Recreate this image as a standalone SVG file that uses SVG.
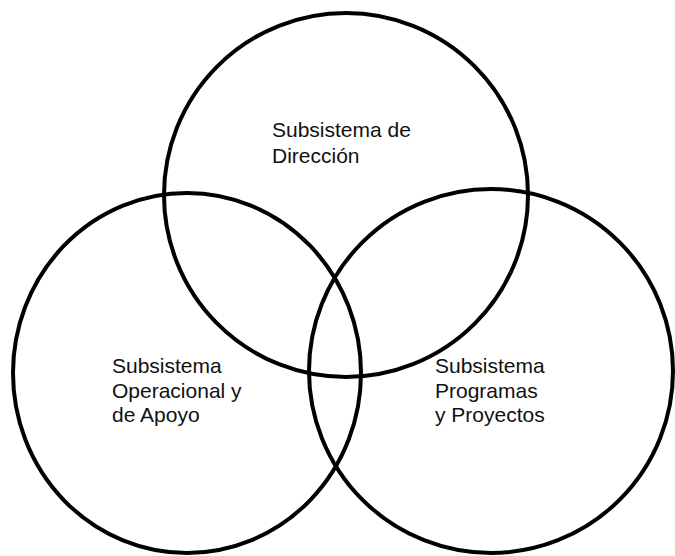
<svg xmlns="http://www.w3.org/2000/svg" width="675" height="556" viewBox="0 0 675 556">
<style>
.c{fill:none;stroke:#000;stroke-width:4}
.t{font-family:"Liberation Sans",Arial,sans-serif;font-size:21px;fill:#111}
</style>
<rect width="675" height="556" fill="#fff"/>
<g id="direccion">
<circle class="c" cx="346" cy="195" r="182"/>
<text class="t" x="272" y="137">Subsistema de</text>
<text class="t" x="272" y="163">Dirección</text>
</g>
<g id="operacional">
<ellipse class="c" cx="187" cy="373" rx="174" ry="180"/>
<text class="t" x="112" y="373">Subsistema</text>
<text class="t" x="112" y="398">Operacional y</text>
<text class="t" x="112" y="422">de Apoyo</text>
</g>
<g id="programas">
<circle class="c" cx="491" cy="371" r="182"/>
<text class="t" x="435" y="373">Subsistema</text>
<text class="t" x="435" y="398">Programas</text>
<text class="t" x="435" y="422">y Proyectos</text>
</g>
<g id="connectors"></g>
</svg>
